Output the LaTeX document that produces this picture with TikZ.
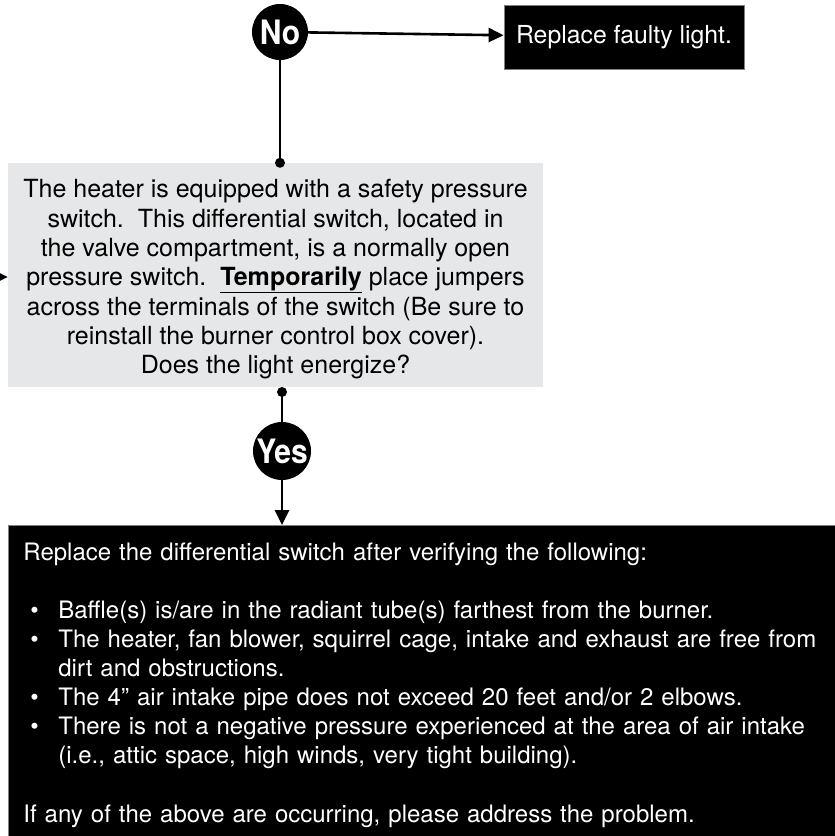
\documentclass[tikz,border=0pt]{standalone}
\usepackage{fontspec}
\setmainfont{TeX Gyre Heros}
\usetikzlibrary{arrows.meta}

\definecolor{panelgray}{HTML}{E6E7E8}

\tikzset{
  answer/.style={circle, fill=black, text=white, inner sep=0pt, minimum size=56pt,
    font=\fontsize{30}{30}\selectfont\bfseries},
  darkbox/.style={fill=black, draw=gray, line width=0.8pt, text=white},
  flow/.style={line width=2.6pt, -{Triangle[length=15pt,width=14pt]}},
  tie/.style={line width=2.6pt},
}

\begin{document}
\begin{tikzpicture}[x=1pt,y=-1pt]
  \useasboundingbox (0,0) rectangle (835,836);

  \node[answer] (no) at (280,32) {\scalebox{1}[1.12]{No}};
  \node[darkbox, minimum width=240pt, minimum height=64pt,
    font=\fontsize{24.8}{28}\selectfont] (faulty) at (624,37) {Replace faulty light.};

  \node[fill=panelgray, minimum width=535pt, minimum height=224pt, align=center,
    font=\fontsize{25}{29.3}\selectfont] (switch) at (275.5,275)
    {\rule{0pt}{27pt}The heater is equipped with a safety pressure\\
     switch.\ \ This differential switch, located in\\
     the valve compartment, is a normally open\\
     pressure switch.\ \ \underline{\textbf{Temporarily}} place jumpers\\
     across the terminals of the switch (Be sure to\\
     reinstall the burner control box cover).\\
     Does the light energize?};

  \node[answer, minimum size=58pt] (yes) at (282,451) {\scalebox{1}[1.12]{Yes}};

  \node[darkbox, anchor=north west, minimum width=830pt, minimum height=319pt,
    inner xsep=14pt, text width=800pt, align=left,
    font=\fontsize{24}{29.1}\selectfont] (replace) at (8,525)
    {Replace the differential switch after verifying the following:\\[29.1pt]
     \makebox[35pt][l]{\hspace{7pt}\textbullet}Baffle(s) is/are in the radiant tube(s) farthest from the burner.\\
     \makebox[35pt][l]{\hspace{7pt}\textbullet}The heater, fan blower, squirrel cage, intake and exhaust are free from\\
     \hspace*{35pt}dirt and obstructions.\\
     \makebox[35pt][l]{\hspace{7pt}\textbullet}The 4” air intake pipe does not exceed 20 feet and/or 2 elbows.\\
     \makebox[35pt][l]{\hspace{7pt}\textbullet}There is not a negative pressure experienced at the area of air intake\\
     \hspace*{35pt}(i.e., attic space, high winds, very tight building).\\[29.1pt]
     If any of the above are occurring, please address the problem.};

  % connectors
  \draw[flow] (no) -- (faulty);
  \draw[tie] (no) -- (no |- switch.north);
  \fill (no |- switch.north) circle (5pt); % dot on top of the panel
  \coordinate (dotbelow) at (282,392);
  \fill (dotbelow) circle (5pt); % dot under the panel
  \draw[tie] (dotbelow) -- (yes);
  \draw[flow] (yes) -- (yes |- replace.north);
  \coordinate (offleft) at (-12,277);
  \draw[flow] (offleft) -- (offleft -| switch.west);
\end{tikzpicture}
\end{document}
